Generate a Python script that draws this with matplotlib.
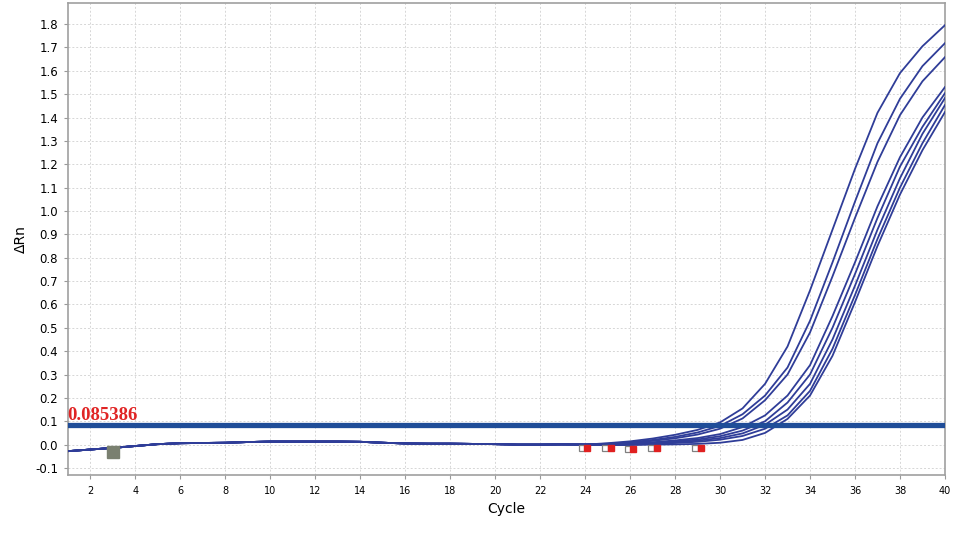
import matplotlib
matplotlib.use("Agg")
import matplotlib.pyplot as plt

# cycles 1..24 shared baseline (all wells overlap here)
cycles = list(range(1, 41))
baseline = [-0.028, -0.021, -0.014, -0.006, 0.002, 0.006, 0.007, 0.008,
            0.011, 0.013, 0.013, 0.013, 0.013, 0.012, 0.008, 0.005,
            0.004, 0.004, 0.003, 0.002, 0.0, 0.0, 0.001, 0.0]

# cycles 25..40 per well
tails = [
    [0.006, 0.014, 0.026, 0.042, 0.063, 0.095, 0.155, 0.26, 0.42, 0.66, 0.92, 1.18, 1.42, 1.59, 1.705, 1.795],
    [0.004, 0.010, 0.020, 0.033, 0.052, 0.080, 0.130, 0.21, 0.33, 0.53, 0.78, 1.04, 1.29, 1.48, 1.62, 1.718],
    [0.003, 0.008, 0.016, 0.027, 0.043, 0.068, 0.112, 0.19, 0.30, 0.48, 0.72, 0.97, 1.21, 1.41, 1.555, 1.658],
    [0.002, 0.005, 0.010, 0.018, 0.028, 0.045, 0.075, 0.125, 0.21, 0.34, 0.55, 0.78, 1.02, 1.23, 1.40, 1.53],
    [0.001, 0.004, 0.008, 0.014, 0.022, 0.036, 0.060, 0.10, 0.18, 0.30, 0.50, 0.73, 0.97, 1.19, 1.36, 1.504],
    [0.0, 0.002, 0.005, 0.010, 0.017, 0.028, 0.048, 0.085, 0.15, 0.26, 0.45, 0.68, 0.92, 1.14, 1.33, 1.483],
    [0.0, 0.001, 0.003, 0.007, 0.012, 0.021, 0.037, 0.068, 0.125, 0.23, 0.41, 0.64, 0.88, 1.10, 1.29, 1.453],
    [-0.002, -0.002, 0.0, 0.001, 0.003, 0.008, 0.020, 0.050, 0.11, 0.21, 0.38, 0.61, 0.85, 1.07, 1.26, 1.423],
]

threshold = 0.085386

# baseline start/end markers
start_x, start_y = 3, -0.03
end_white_x = [23.85, 24.9, 25.9, 26.95, 28.9]
end_red_x = [24.1, 25.15, 26.15, 27.2, 29.15]
end_y = [-0.013, -0.013, -0.018, -0.013, -0.013]

curve_col = "#2f3d98"
thr_col = "#1f4d98"

fig = plt.figure(figsize=(9.6, 5.4), dpi=100)
ax = fig.add_axes([0.0708, 0.1204, 0.9135, 0.874])

for t in tails:
    ax.plot(cycles, baseline + t, color=curve_col, lw=1.3, zorder=3)

ax.axhline(threshold, color=thr_col, lw=3.8, zorder=4)
ax.text(0.98, threshold + 0.02, f"{threshold:.6f}", color="#e02424",
        family="Liberation Serif", fontweight="bold", fontsize=13.5, zorder=5)

ax.plot(start_x, start_y, "s", ms=8, mfc="#7a8070", mec="#7a8070", zorder=6)
ax.plot(end_white_x, end_y, "s", ms=4.5, mfc="white", mec="#808080", mew=0.9, zorder=6)
ax.plot(end_red_x, end_y, "s", ms=5, mfc="#e02020", mec="#e02020", zorder=6)

ax.set_xlim(1, 40)
ax.set_ylim(-0.13, 1.89)
ax.set_xticks(range(2, 41, 2))
ax.set_yticks([i / 10 for i in range(-1, 19)])
ax.set_yticklabels([f"{i / 10:.1f}" for i in range(-1, 19)])
ax.tick_params(axis="x", labelsize=7, length=3, color="#999999", pad=5)
ax.tick_params(axis="y", labelsize=8.5, length=3, color="#999999", pad=4)
ax.grid(True, color="#d6d6d6", lw=0.7, ls=(0, (2, 2)))
ax.set_axisbelow(True)
for s in ax.spines.values():
    s.set_color("#a0a0a0")
    s.set_linewidth(1.2)

ax.set_xlabel("Cycle", fontsize=10, labelpad=4)
ax.set_ylabel("\u0394Rn", fontsize=10, labelpad=5)

fig.savefig("out.png", dpi=100)
